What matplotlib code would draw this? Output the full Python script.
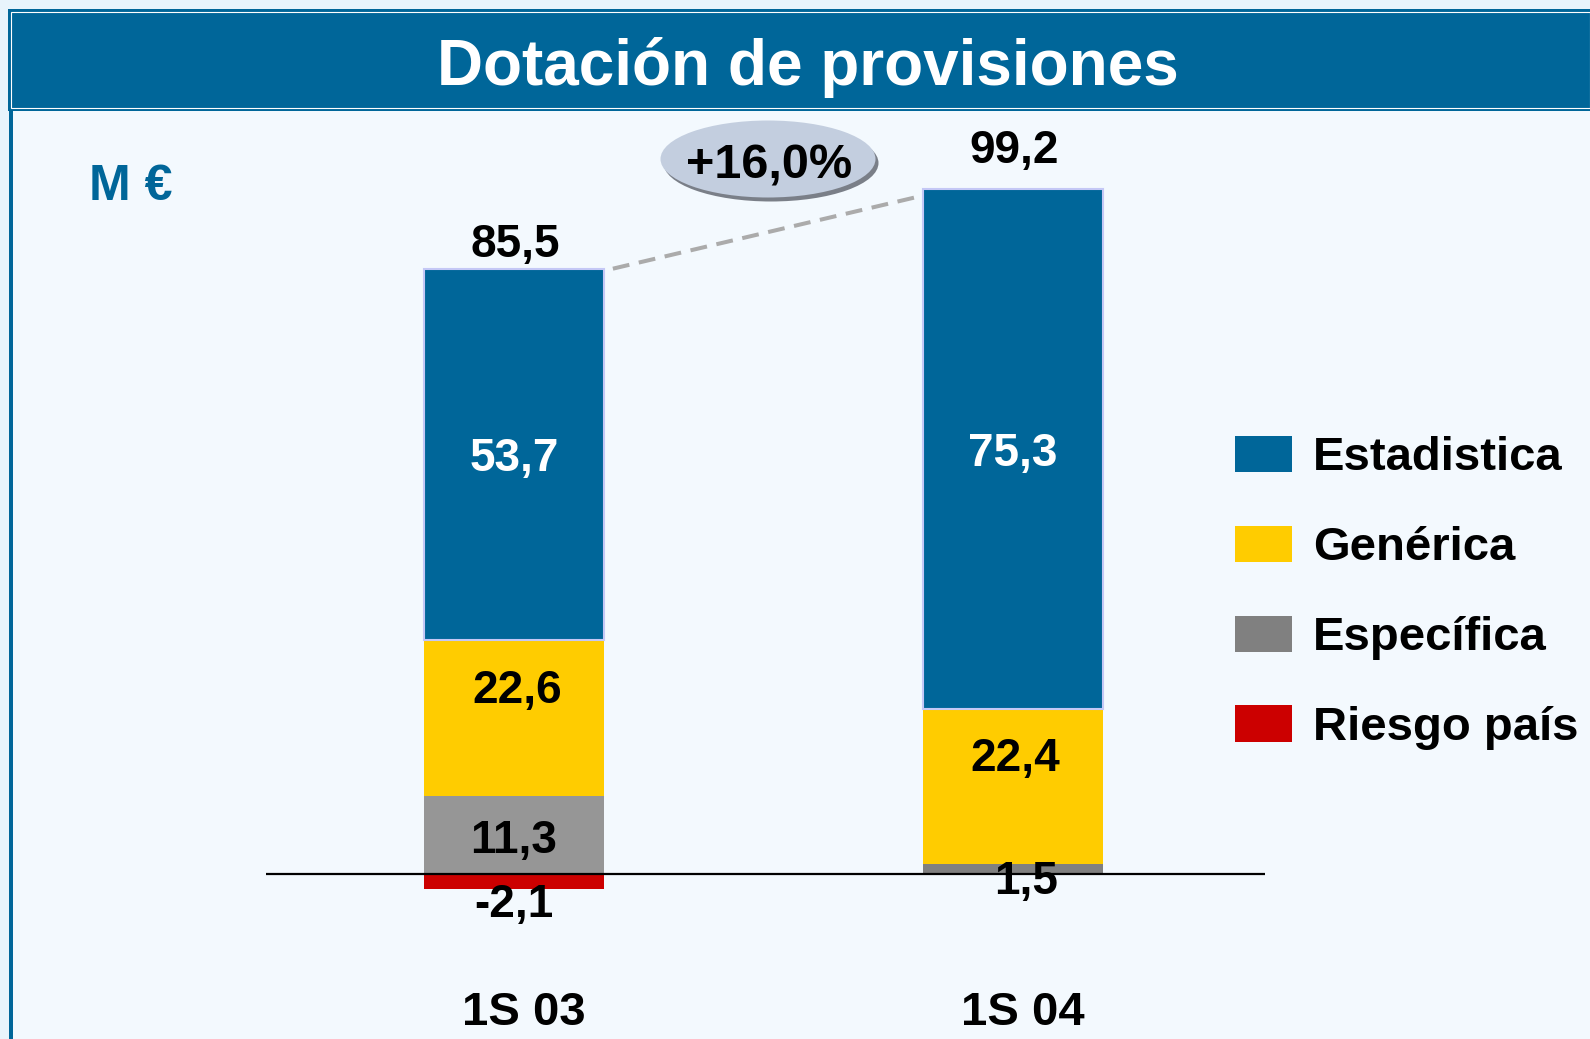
import matplotlib.pyplot as plt
from matplotlib.patches import Rectangle, Ellipse, Patch

# Provisions by type, million euro
periods = ["1S 03", "1S 04"]
estadistica = [53.7, 75.3]
generica = [22.6, 22.4]
especifica = [11.3, 1.5]
riesgo_pais = [-2.1, 0.0]
totals = [85.5, 99.2]
growth = "+16,0%"

series_names = ["Estadistica", "Genérica", "Específica", "Riesgo país"]

BLUE = "#006699"
YELLOW = "#FFCC00"
GREY = "#808080"
RED = "#CC0000"

W, H = 1590, 1039
plt.rcParams['font.family'] = ['Liberation Sans', 'DejaVu Sans']
plt.rcParams['font.weight'] = 'bold'


def fx(px):
    return px / W


def fy(py):
    # pixel row (from top) -> figure fraction
    return 1 - py / H


def fmt(v):
    return "{:.1f}".format(v).replace(".", ",")


fig = plt.figure(figsize=(W / 100, H / 100), dpi=100)
fig.patch.set_facecolor("#E8F4FC")

# slide panel, title band and left rule
fig.patches.append(Rectangle((fx(13), 0), 1 - fx(13), fy(111), transform=fig.transFigure,
                             facecolor="#F3F9FE", edgecolor="none", zorder=0))
fig.patches.append(Rectangle((fx(9), 0), fx(4), fy(111), transform=fig.transFigure,
                             facecolor=BLUE, edgecolor="none", zorder=0))
fig.patches.append(Rectangle((fx(8), fy(111)), 1 - fx(8), (111 - 9) / H, transform=fig.transFigure,
                             facecolor=BLUE, edgecolor="none", zorder=0))
fig.patches.append(Rectangle((fx(11), fy(108)), 1 - fx(11), (108 - 12) / H, transform=fig.transFigure,
                             facecolor="none", edgecolor="white", linewidth=0.8, zorder=0))
fig.text(fx(808), fy(68), "Dotación de provisiones", color="white", fontsize=46,
         fontweight="bold", ha="center", va="center")
fig.text(fx(89), fy(187), "M €", color=BLUE, fontsize=36, fontweight="bold",
         ha="left", va="center")

ax = fig.add_axes([fx(266), 0, (1265 - 266) / W, (H - 111) / H])
ax.set_zorder(2)
ax.set_facecolor("none")
ax.axis("off")

x = [0, 1]
w = 0.361
bottom_gen = especifica
bottom_est = [a + b for a, b in zip(especifica, generica)]

ax.bar(x, riesgo_pais, w, color=RED, zorder=2)
ax.bar(x, especifica, w, color=["#969696", "#808080"], zorder=2)
ax.bar(x, generica, w, bottom=bottom_gen, color=YELLOW, zorder=2)
ax.bar(x, estadistica, w, bottom=bottom_est, color=BLUE, edgecolor="#C4C8F6",
       linewidth=1.5, zorder=2)
ax.axhline(0, color="black", linewidth=1.6, zorder=3)

ax.set_xlim(-0.497, 1.506)
ax.set_ylim(-23.88, 110.42)

lab = dict(fontsize=33, fontweight="bold", ha="center", va="center", zorder=5,
           textcoords="offset pixels")

for i in x:
    ax.annotate(fmt(estadistica[i]), (i, bottom_est[i] + estadistica[i] / 2), xytext=(0, -5),
                color="white", **lab)
    ax.annotate(fmt(generica[i]), (i, bottom_gen[i] + generica[i] / 2), xytext=(3, 27),
                color="black", **lab)
    ax.annotate(fmt(totals[i]), (i, totals[i]), xytext=(1, 38),
                color="black", **lab)
    ax.annotate(periods[i], (i, -19.3), xytext=(10, -6), color="black",
                family=["Liberation Sans Narrow", "Liberation Sans"], fontsize=34,
                fontweight="bold", ha="center", va="center", textcoords="offset pixels")

ax.annotate(fmt(especifica[0]), (0, especifica[0] / 2), xytext=(0, -6), color="black", **lab)
ax.annotate(fmt(especifica[1]), (1, 0), xytext=(13, -8), color="black", **lab)
ax.annotate(fmt(riesgo_pais[0]), (0, riesgo_pais[0]), xytext=(0, -16), color="black", **lab)

# growth connector between the two stacks
ax.plot([w / 2 + 0.018, 1 - w / 2 - 0.01], [bottom_est[0] + estadistica[0], 98.0],
        color="#ABABAB", linewidth=2.9, dashes=(4.2, 2.4), zorder=1)

ex, ey = 768, 159
fig.patches.append(Ellipse((fx(ex + 3), fy(ey + 4)), 215 / W, 77 / H, transform=fig.transFigure,
                           facecolor="#7A7F88", edgecolor="none", zorder=4))
fig.patches.append(Ellipse((fx(ex), fy(ey)), 215 / W, 77 / H, transform=fig.transFigure,
                           facecolor="#C3CEDF", edgecolor="none", zorder=4))
fig.text(fx(ex + 1), fy(ey + 7), growth, fontsize=35, fontweight="bold", color="black",
         ha="center", va="center", zorder=6)

handles = [Patch(facecolor=c, edgecolor="none") for c in (BLUE, YELLOW, GREY, RED)]
fig.legend(handles, series_names, loc="upper left", bbox_to_anchor=(fx(1235), fy(436)),
           frameon=False, handlelength=1.2, handleheight=0.8,
           handletextpad=0.45, labelspacing=0.96, borderpad=0, borderaxespad=0,
           prop={"weight": "bold", "size": 34})

fig.savefig("out.png", dpi=100)
